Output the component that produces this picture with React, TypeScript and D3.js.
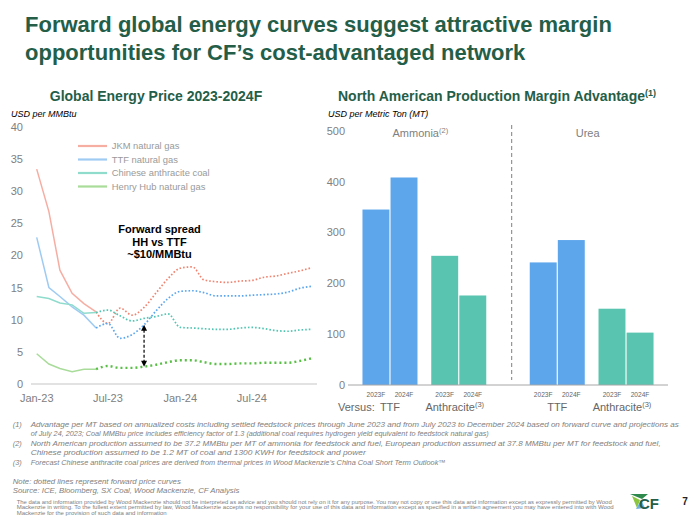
import React from "react";
import * as d3 from "d3";

// ---------- DATA ----------
const months = [
  "2023-01", "2023-02", "2023-03", "2023-04", "2023-05", "2023-06",
  "2023-07", "2023-08", "2023-09", "2023-10", "2023-11", "2023-12",
  "2024-01", "2024-02", "2024-03", "2024-04", "2024-05", "2024-06",
  "2024-07", "2024-08", "2024-09", "2024-10", "2024-11", "2024-12",
];
const jkm = [33.4, 26.8, 17.7, 14.1, 12.5, 11.2, 9.4, 11.8, 10.7, 11.9, 14.2, 16.4, 18.0, 18.2, 16.2, 15.9, 15.8, 16.0, 16.1, 16.6, 16.8, 17.2, 17.6, 18.1];
const ttf = [22.8, 15.0, 13.6, 12.0, 10.7, 8.7, 9.4, 7.1, 7.7, 9.2, 11.4, 13.3, 14.4, 14.5, 14.2, 13.7, 13.7, 13.7, 13.8, 13.9, 14.0, 14.3, 14.9, 15.2];
const coal = [13.6, 13.3, 12.6, 12.3, 11.0, 11.1, 11.5, 10.6, 9.8, 10.2, 10.5, 10.9, 8.8, 8.7, 8.6, 8.5, 8.5, 8.7, 8.8, 8.6, 8.3, 8.2, 8.4, 8.5];
const henryHub = [4.7, 3.1, 2.4, 1.9, 2.3, 2.3, 2.8, 2.5, 2.5, 2.7, 3.0, 3.4, 3.7, 3.7, 3.4, 3.1, 3.1, 3.2, 3.2, 3.3, 3.3, 3.3, 3.6, 4.0];
const seriesNames = ["JKM natural gas", "TTF natural gas", "Chinese anthracite coal", "Henry Hub natural gas"];
const lastActualMonth = "2023-06";
const priceTicks = [0, 5, 10, 15, 20, 25, 30, 35, 40];
const dateTicks = ["2023-01", "2023-07", "2024-01", "2024-07"];
const dateTickLabels = ["Jan-23", "Jul-23", "Jan-24", "Jul-24"];
const spreadMonth = "2023-10";

const products = ["Ammonia", "Urea"];
const productNotes = ["(2)", ""];
const versus = ["TTF", "Anthracite"];
const versusNotes = ["", "(3)"];
const years = ["2023F", "2024F"];
const ammoniaTTF = [345, 408];
const ammoniaAnthracite = [254, 176];
const ureaTTF = [241, 285];
const ureaAnthracite = [150, 103];
const marginTicks = [0, 100, 200, 300, 400, 500];

const footnotes = [
  ["(1)", "Advantage per MT based on annualized costs including settled feedstock prices through June 2023 and from July 2023 to December 2024 based on forward curve and projections as"],
  ["", "of July 24, 2023; Coal MMBtu price includes efficiency factor of 1.3 (additional coal requires hydrogen yield equivalent to feedstock natural gas)"],
  ["(2)", "North American production assumed to be 37.2 MMBtu per MT of ammonia for feedstock and fuel, European production assumed at 37.8 MMBtu per MT for feedstock and fuel,"],
  ["", "Chinese production assumed to be 1.2 MT of coal and 1300 KWH for feedstock and power"],
  ["(3)", "Forecast Chinese anthracite coal prices are derived from thermal prices in Wood Mackenzie\u2019s China Coal Short Term Outlook\u2122"],
];
const footnoteLengths = [648, 458, 630, 335, 415];
const disclaimer = [
  "The data and information provided by Wood Mackenzie should not be interpreted as advice and you should not rely on it for any purpose. You may not copy or use this data and information except as expressly permitted by Wood",
  "Mackenzie in writing. To the fullest extent permitted by law, Wood Mackenzie accepts no responsibility for your use of this data and information except as specified in a written agreement you may have entered into with Wood",
  "Mackenzie for the provision of such data and information",
];
const disclaimerLengths = [595, 597, 150];

// ---------- STYLE ----------
const FONT = "'Liberation Sans', Arial, Helvetica, sans-serif";
const GREEN = "#245e48";
const GRAY = "#808080";
const solidColors = ["#f6aea3", "#9fcbf3", "#8fdccd", "#a9dc9a"];
const dotColors = ["#f08470", "#5aa6ee", "#50c6b2", "#58bf45"];
const BLUE = "#5ea6ec";
const TEAL = "#59c5b0";

export default function App() {
  const parse = d3.timeParse("%Y-%m");
  const dates = months.map((m) => parse(m) as Date);
  const x = d3.scaleTime().domain([dates[0], dates[dates.length - 1]]).range([36.7, 312]);
  const y = d3.scaleLinear().domain([0, 40]).range([384, 126.7]);
  const series = [jkm, ttf, coal, henryHub];
  const splitIdx = months.indexOf(lastActualMonth);

  const solidLine = d3
    .line<[Date, number]>()
    .x((d) => x(d[0]))
    .y((d) => y(d[1]));
  const dotLine = d3
    .line<[Date, number]>()
    .x((d) => x(d[0]))
    .y((d) => y(d[1]))
    .curve(d3.curveMonotoneX);

  // bar chart scales
  const yB = d3.scaleLinear().domain([0, 500]).range([385, 130.7]);
  const xP = d3.scaleBand().domain(products).range([348, 668]).paddingInner(0.26).paddingOuter(0.0865);
  const xV = d3.scaleBand().domain(versus).range([0, xP.bandwidth()]).paddingInner(0.2);
  const xY = d3.scaleBand().domain(years).range([0, xV.bandwidth()]).paddingInner(0.04);
  const barData: Record<string, Record<string, number[]>> = {
    Ammonia: { TTF: ammoniaTTF, Anthracite: ammoniaAnthracite },
    Urea: { TTF: ureaTTF, Anthracite: ureaAnthracite },
  };

  const spreadX = x(parse(spreadMonth) as Date);
  const si = months.indexOf(spreadMonth);
  const spreadTop = y(ttf[si]);
  const spreadBot = y(henryHub[si]);

  const legendY = [146, 159.5, 173, 186.5];

  return (
    <svg
      width={700}
      height={525}
      viewBox="0 0 700 525"
      style={{ position: "absolute", left: 0, top: 0, background: "#fff" }}
      fontFamily={FONT}
    >
      <rect x={0} y={0} width={700} height={525} fill="#fff" />
      {/* Main title */}
      <text x={25} y={32} fontSize={22} fontWeight="bold" fill={GREEN}>
        Forward global energy curves suggest attractive margin
      </text>
      <text x={25} y={60} fontSize={22} fontWeight="bold" fill={GREEN}>
        opportunities for CF’s cost-advantaged network
      </text>

      {/* ---------- LINE CHART ---------- */}
      <text x={156} y={100.5} fontSize={14} fontWeight="bold" fill={GREEN} textAnchor="middle">
        Global Energy Price 2023-2024F
      </text>
      <text x={11} y={116.5} fontSize={9} fontStyle="italic" fill="#000">
        USD per MMBtu
      </text>
      {priceTicks.map((t) => (
        <text key={t} x={23} y={y(t) + 4} fontSize={11} fill={GRAY} textAnchor="end">
          {t}
        </text>
      ))}
      <line x1={31} x2={317} y1={y(0)} y2={y(0)} stroke="#d9d9d9" strokeWidth={1.5} />
      {dateTicks.map((t, i) => (
        <text key={t} x={x(parse(t) as Date)} y={402} fontSize={11} fill={GRAY} textAnchor="middle">
          {dateTickLabels[i]}
        </text>
      ))}

      {series.map((s, k) => {
        const pts: [Date, number][] = s.map((v, i) => [dates[i], v]);
        return (
          <g key={k}>
            <path d={solidLine(pts.slice(0, splitIdx + 1)) || ""} fill="none" stroke={solidColors[k]} strokeWidth={1.5} />
            <path
              d={dotLine(pts.slice(splitIdx)) || ""}
              fill="none"
              stroke={dotColors[k]}
              strokeWidth={k === 3 ? 2.4 : 1.7}
              strokeDasharray={k === 3 ? "2 3" : "1.6 2"}
            />
          </g>
        );
      })}

      {/* legend */}
      {seriesNames.map((n, k) => (
        <g key={n}>
          <line x1={78} x2={107} y1={legendY[k]} y2={legendY[k]} stroke={solidColors[k]} strokeWidth={2.2} />
          <text x={111.7} y={legendY[k] + 3.3} fontSize={9.4} fill="#9a9a9a">
            {n}
          </text>
        </g>
      ))}

      {/* annotation */}
      <g fontSize={11} fontWeight="bold" fill="#000" textAnchor="middle">
        <text x={159.5} y={233}>Forward spread</text>
        <text x={159.5} y={245.5}>HH vs TTF</text>
        <text x={159.5} y={257.5}>~$10/MMBtu</text>
      </g>
      <line x1={spreadX} x2={spreadX} y1={spreadTop + 5} y2={spreadBot - 5} stroke="#000" strokeWidth={1.2} strokeDasharray="3 2" />
      <path d={`M${spreadX},${spreadTop} l-3,6 l6,0 z`} fill="#000" />
      <path d={`M${spreadX},${spreadBot} l-3,-6 l6,0 z`} fill="#000" />

      {/* ---------- BAR CHART ---------- */}
      <text x={497} y={100.5} fontSize={14} fontWeight="bold" fill={GREEN} textAnchor="middle">
        North American Production Margin Advantage
        <tspan fontSize={9} dy={-5}>(1)</tspan>
      </text>
      <text x={328} y={117} fontSize={9} fontStyle="italic" fill="#000">
        USD per Metric Ton (MT)
      </text>
      {marginTicks.map((t) => (
        <text key={t} x={345} y={yB(t) + 4} fontSize={11} fill={GRAY} textAnchor="end">
          {t}
        </text>
      ))}
      <line x1={511.7} x2={511.7} y1={125} y2={380} stroke="#7f7f7f" strokeWidth={1} strokeDasharray="4 3" />

      {products.map((p, pi) => (
        <g key={p}>
          <text x={(xP(p) as number) + xP.bandwidth() / 2 - 4} y={137} fontSize={11} fill={GRAY} textAnchor="middle">
            {p}
            {productNotes[pi] && (
              <tspan fontSize={7.5} dy={-4}>
                {productNotes[pi]}
              </tspan>
            )}
          </text>
          {versus.map((v, vi) => {
            const gx = (xP(p) as number) + (xV(v) as number);
            return (
              <g key={v}>
                {years.map((yr, yi) => {
                  const bx = gx + (xY(yr) as number);
                  const val = barData[p][v][yi];
                  return (
                    <g key={yr}>
                      <rect x={bx} y={yB(val)} width={xY.bandwidth()} height={yB(0) - yB(val)} fill={vi === 0 ? BLUE : TEAL} />
                      <text x={bx + xY.bandwidth() / 2} y={396.5} fontSize={6.6} fill="#666" textAnchor="middle">
                        {yr}
                      </text>
                    </g>
                  );
                })}
                <text x={gx + xV.bandwidth() / 2 + (versusNotes[vi] ? -4 : 0)} y={410.5} fontSize={11} fill="#666" textAnchor="middle">
                  {v}
                  {versusNotes[vi] && (
                    <tspan fontSize={7.5} dy={-4}>
                      {versusNotes[vi]}
                    </tspan>
                  )}
                </text>
              </g>
            );
          })}
        </g>
      ))}
      <text x={338} y={410.5} fontSize={11} fill="#666">
        Versus:
      </text>
      <line x1={348} x2={668} y1={yB(0)} y2={yB(0)} stroke="#a6a6a6" strokeWidth={1} />

      {/* ---------- FOOTNOTES ---------- */}
      <g fontSize={7.4} fontStyle="italic" fill={GRAY}>
        {footnotes.map((f, i) => (
          <g key={i}>
            {f[0] && (
              <text x={12.7} y={426.5 + i * 9.5}>
                {f[0]}
              </text>
            )}
            <text x={30.7} y={426.5 + i * 9.5} textLength={footnoteLengths[i]} lengthAdjust="spacingAndGlyphs">
              {f[1]}
            </text>
          </g>
        ))}
        <text x={12.7} y={483.5} fontSize={7.8}>
          Note: dotted lines represent forward price curves
        </text>
        <text x={12.7} y={493} fontSize={7.8}>
          Source: ICE, Bloomberg, SX Coal, Wood Mackenzie, CF Analysis
        </text>
      </g>
      <g fontSize={5.3} fill={GRAY}>
        {disclaimer.map((d, i) => (
          <text key={i} x={16.7} y={503.5 + i * 5.8} textLength={disclaimerLengths[i]} lengthAdjust="spacingAndGlyphs">
            {d}
          </text>
        ))}
      </g>

      {/* logo */}
      <g>
        <path d="M630,494 L648,494 L642,499 Z" fill="#2f8a4e" />
        <path d="M632,496 L640,500 L637,508 Z" fill="#8cc63f" />
        <path d="M636,509 L641,500 L645,508 Z" fill="#6ab0e0" />
        <text x={639} y={508.5} fontSize={15} fontWeight="bold" fill="#245e48">
          CF
        </text>
      </g>
      <text x={685} y={505} fontSize={10} fontWeight="bold" fill="#222" textAnchor="middle">
        7
      </text>
    </svg>
  );
}
